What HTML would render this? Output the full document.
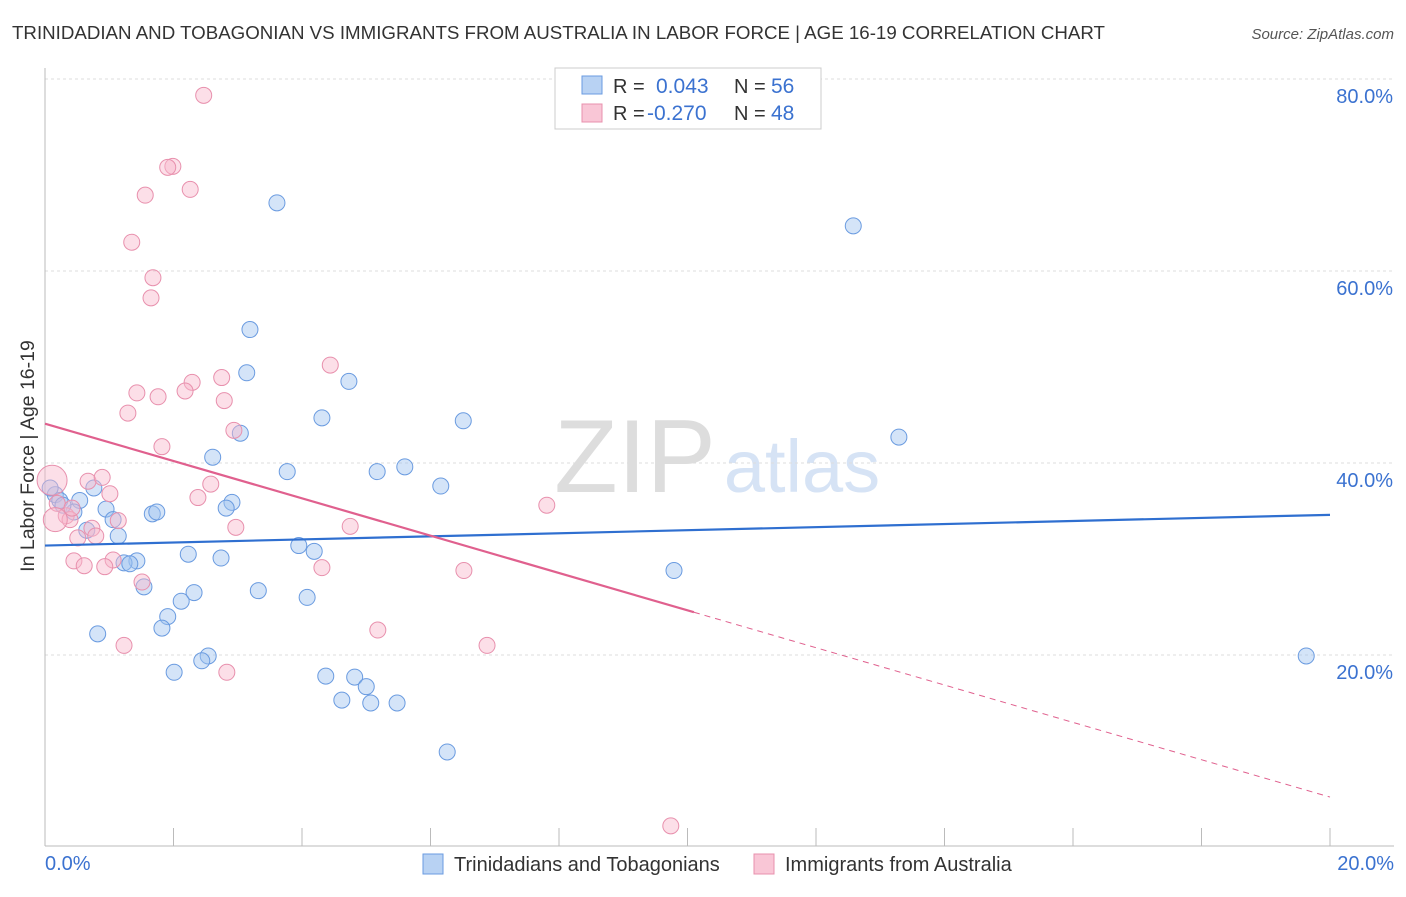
<!DOCTYPE html>
<html><head><meta charset="utf-8">
<style>
body{margin:0;background:#fff;font-family:"Liberation Sans",sans-serif;}
svg text{font-family:"Liberation Sans",sans-serif;}
</style></head>
<body>
<svg id="chart" width="1406" height="892">
<text x="12" y="39" font-size="18.8" fill="#333" textLength="1093" lengthAdjust="spacingAndGlyphs">TRINIDADIAN AND TOBAGONIAN VS IMMIGRANTS FROM AUSTRALIA IN LABOR FORCE | AGE 16-19 CORRELATION CHART</text>
<text x="1394" y="39" font-size="15" fill="#555" font-style="italic" text-anchor="end">Source: ZipAtlas.com</text>
<g>
<text x="635" y="492" font-size="104" fill="#ddd" font-family="Liberation Serif" text-anchor="middle">ZIP</text>
<text x="802" y="492" font-size="74" fill="#d6e3f5" text-anchor="middle">atlas</text>
</g>
<g id="grid"></g>
<g id="axes"></g>
<g id="marks"></g>
<text transform="translate(34,456) rotate(-90)" font-size="19.5" fill="#333" text-anchor="middle">In Labor Force | Age 16-19</text>
<g>
<rect x="555" y="68" width="266" height="61" fill="#fff" stroke="#ccc"/>
<rect x="582" y="76" width="20" height="18" fill="#b8d2f3" stroke="#6a9be0"/>
<rect x="582" y="104" width="20" height="18" fill="#f9c6d6" stroke="#e890ad"/>
<text x="613" y="93" font-size="20" fill="#333">R =</text><text x="656" y="93" font-size="21" fill="#3b72d0">0.043</text>
<text x="734" y="93" font-size="20" fill="#333">N =</text><text x="771" y="93" font-size="21" fill="#3b72d0">56</text>
<text x="613" y="120" font-size="20" fill="#333">R =</text><text x="647" y="120" font-size="21" fill="#3b72d0">-0.270</text>
<text x="734" y="120" font-size="20" fill="#333">N =</text><text x="771" y="120" font-size="21" fill="#3b72d0">48</text>
</g>
<g>
<rect x="423" y="854" width="20" height="20" fill="#b8d2f3" stroke="#6a9be0"/>
<text x="454" y="871" font-size="20" fill="#333">Trinidadians and Tobagonians</text>
<rect x="754" y="854" width="20" height="20" fill="#f9c6d6" stroke="#e890ad"/>
<text x="785" y="871" font-size="20" fill="#333">Immigrants from Australia</text>
</g>
</svg>
<script>
const blueX=[3.61,12.58,3.19,3.14,4.73,4.31,6.51,3.04,13.29,2.61,3.77,5.17,5.60,6.16,0.76,0.16,0.54,0.23,2.91,0.95,2.82,0.45,1.67,1.74,1.06,1.14,0.65,3.95,4.19,2.23,2.74,1.43,1.23,1.32,9.79,1.54,3.32,2.32,4.08,2.12,1.91,1.82,0.82,2.54,2.44,2.01,4.37,4.82,5.00,4.62,5.07,5.48,6.26,19.63,0.08,0.28];
const blueY=[67.1,64.7,53.9,49.4,48.5,44.7,44.4,43.1,42.7,40.6,39.1,39.1,39.6,37.6,37.4,36.7,36.1,36.1,35.9,35.2,35.3,34.9,34.7,34.9,34.1,32.4,33.0,31.4,30.8,30.5,30.1,29.8,29.6,29.5,28.8,27.1,26.7,26.5,26.0,25.6,24.0,22.8,22.2,19.9,19.4,18.2,17.8,17.7,16.7,15.3,15.0,15.0,9.9,19.9,37.4,35.6];
const pinkX=[2.47,1.99,1.91,2.26,1.56,1.35,1.68,1.65,4.44,2.29,2.75,1.43,2.18,1.76,2.79,1.29,2.94,1.82,0.67,0.89,2.58,1.01,2.38,7.81,0.19,0.33,0.39,1.14,2.97,4.75,0.73,0.79,0.51,1.06,0.45,0.61,0.93,4.31,6.52,1.51,5.18,6.88,1.23,2.83,9.74,0.11,0.16,0.42];
const pinkY=[78.3,70.9,70.8,68.5,67.9,63.0,59.3,57.2,50.2,48.4,48.9,47.3,47.5,46.9,46.5,45.2,43.4,41.7,38.1,38.5,37.8,36.8,36.4,35.6,35.8,34.5,34.1,34.0,33.3,33.4,33.2,32.4,32.2,29.9,29.8,29.3,29.2,29.1,28.8,27.6,22.6,21.0,21.0,18.2,2.2,38.2,34.1,35.3];
const pinkR=[8,8,8,8,8,8,8,8,8,8,8,8,8,8,8,8,8,8,8,8,8,8,8,8,8,8,8,8,8,8,8,8,8,8,8,8,8,8,8,8,8,8,8,8,8,15,12,8];
const yTicks=[20,40,60,80];
const xTickLabels=["0.0%","20.0%"];
const blueLine=[31.4,34.6];
const pinkLine=[44.1,5.2];
const pinkSolidEnd=10.1;

const NS="http://www.w3.org/2000/svg";
const X=v=>45+v*64.25, Y=v=>847-v*9.6;
function mk(tag,attrs,parent){const e=document.createElementNS(NS,tag);for(const k in attrs)e.setAttribute(k,attrs[k]);document.getElementById(parent).appendChild(e);return e;}
yTicks.forEach(t=>{
 const l=mk('line',{x1:45,x2:1394,y1:Y(t),y2:Y(t),stroke:'#ddd','stroke-dasharray':'3,3'},'grid');
 
 
 const tx=mk('text',{x:1393,y:Y(t)+24,'font-size':20,fill:'#3b72d0','text-anchor':'end'},'axes');
 tx.textContent=t.toFixed(1)+'%';
 
 
});
const ya=mk('line',{x1:45,x2:45,y1:68,y2:846,stroke:'#bbb'},'axes');


const xa=mk('line',{x1:45,x2:1394,y1:846,y2:846,stroke:'#bbb'},'axes');


for(let i=0;i<=10;i++){
 const t=mk('line',{x1:X(i*2),x2:X(i*2),y1:828,y2:846,stroke:'#bbb'},'axes');
 
 
}
const xl0=mk('text',{x:45,y:870,'font-size':20,fill:'#3b72d0'},'axes');xl0.textContent=xTickLabels[0];


const xl1=mk('text',{x:1394,y:870,'font-size':20,fill:'#3b72d0','text-anchor':'end'},'axes');xl1.textContent=xTickLabels[1];



blueX.forEach((x,i)=>{
 const c=mk('circle',{cx:X(x),cy:Y(blueY[i]),r:8,fill:'rgba(160,195,240,0.45)',stroke:'#6a9be0','stroke-width':1},'marks');
 
 
});
pinkX.forEach((x,i)=>{
 const c=mk('circle',{cx:X(x),cy:Y(pinkY[i]),r:pinkR[i],fill:'rgba(248,185,205,0.45)',stroke:'#e890ad','stroke-width':1},'marks');
 
 
});
const bl=mk('line',{x1:X(0),y1:Y(blueLine[0]),x2:X(20),y2:Y(blueLine[1]),stroke:'#2f6fd0','stroke-width':2.2},'marks');


const py=x=>pinkLine[0]+(pinkLine[1]-pinkLine[0])*x/20;
const pl=mk('line',{x1:X(0),y1:Y(pinkLine[0]),x2:X(pinkSolidEnd),y2:Y(py(pinkSolidEnd)),stroke:'#e0608e','stroke-width':2.2},'marks');


const pd=mk('line',{x1:X(pinkSolidEnd),y1:Y(py(pinkSolidEnd)),x2:X(20),y2:Y(pinkLine[1]),stroke:'#e0608e','stroke-width':1,'stroke-dasharray':'6,5'},'marks');


</script>
</body></html>
